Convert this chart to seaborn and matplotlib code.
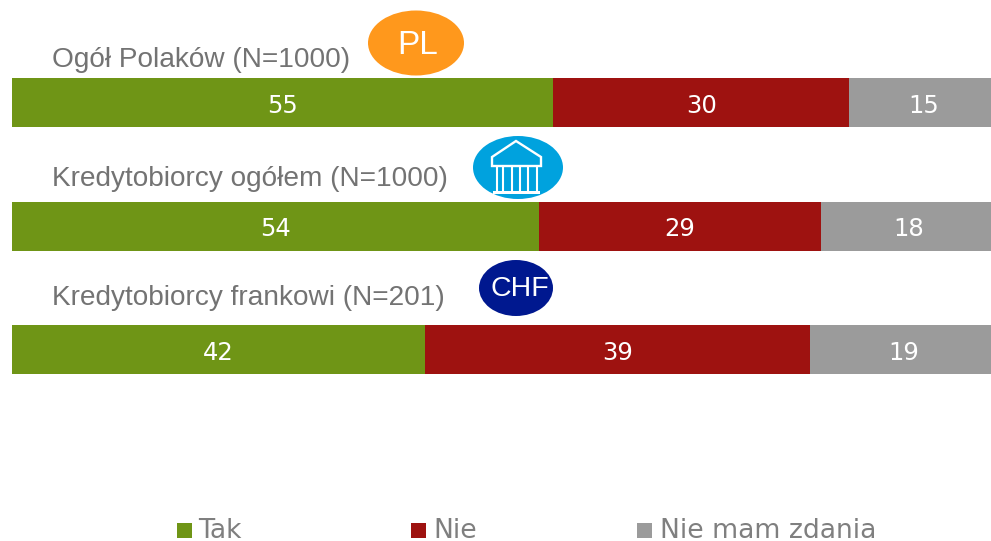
import matplotlib
matplotlib.use("Agg")
import matplotlib.pyplot as plt
from matplotlib.lines import Line2D
from matplotlib.patches import Ellipse, Polygon, Rectangle
import numpy as np
import pandas as pd
import seaborn as sns

groups = ["Ogół Polaków (N=1000)", "Kredytobiorcy ogółem (N=1000)", "Kredytobiorcy frankowi (N=201)"]
series_names = ["Tak", "Nie", "Nie mam zdania"]
tak = [55.3, 53.8, 42.2]
nie = [30.2, 28.8, 39.3]
brak = [14.5, 17.4, 18.5]
shown_tak = ["55", "54", "42"]
shown_nie = ["30", "29", "39"]
shown_brak = ["15", "18", "19"]
colors = ["#6f9516", "#9e1210", "#9b9b9b"]

sns.set_theme(style="white")
fig = plt.figure(figsize=(9.91, 5.41), dpi=100)
ax = fig.add_axes([12 / 991, 0, 979 / 991, 1])

vals = np.array([tak, nie, brak])
cum = vals.cumsum(axis=0)
df = pd.DataFrame({"group": groups})
for i in (2, 1, 0):
    df["v"] = cum[i]
    sns.barplot(data=df, y="group", x="v", color=colors[i], saturation=1,
                width=49 / 123.5, linewidth=0, ax=ax)

ax.set_xlim(0, 100)
ax.set_ylim(3.55, -0.83)
ax.axis("off")

shown = [shown_tak, shown_nie, shown_brak]
starts = np.vstack([np.zeros(3), cum[:-1]])
nudge = [0, 0, 0.33]
for i in range(3):
    for r in range(3):
        ax.text(starts[i, r] + vals[i, r] / 2 + nudge[i], r + 0.025, shown[i][r], color="white",
                fontsize=17.5, ha="center", va="center", family="DejaVu Sans")

# overlay in pixel coordinates for legend, captions and badges
ov = fig.add_axes([0, 0, 1, 1], facecolor="none")
ov.set_xlim(0, 991)
ov.set_ylim(541, 0)
ov.axis("off")

for name, c, sx, tx in zip(series_names, colors, (177, 411, 637), (198, 433, 660)):
    ov.add_patch(Rectangle((sx, 523), 15, 15, color=c, lw=0))
    ov.text(tx, 538.5, name, color="#7f7f7f", fontsize=19.2, va="baseline", ha="left",
            family="DejaVu Sans")

label_y = [60, 179, 298]
for name, y in zip(groups, label_y):
    ov.text(52, y, name, color="#737373", fontsize=20.2, va="center", ha="left",
            family="Liberation Sans")

ov.add_patch(Ellipse((416, 43), 96, 65, color="#ff981c", lw=0))
ov.text(418, 46, "PL", color="white", fontsize=24, ha="center", va="center", family="Liberation Sans")

ov.add_patch(Ellipse((518, 167.5), 90, 63, color="#00a2de", lw=0))
ov.add_patch(Polygon([(492, 166), (492, 157), (516, 141), (541, 157), (541, 166)], closed=True,
                     fill=False, ec="white", lw=1.7))
for x in (497, 503, 512, 520, 528, 537):
    ov.add_artist(Line2D([x, x], [167, 191], color="white", lw=1.5))
ov.add_patch(Rectangle((493, 191), 47, 2.5, color="white", lw=0))

ov.add_patch(Ellipse((516, 288), 74, 56, color="#00188f", lw=0))
ov.text(520, 289, "CHF", color="white", fontsize=20.5, ha="center", va="center", family="Liberation Sans")

fig.savefig("out.png", dpi=100)
